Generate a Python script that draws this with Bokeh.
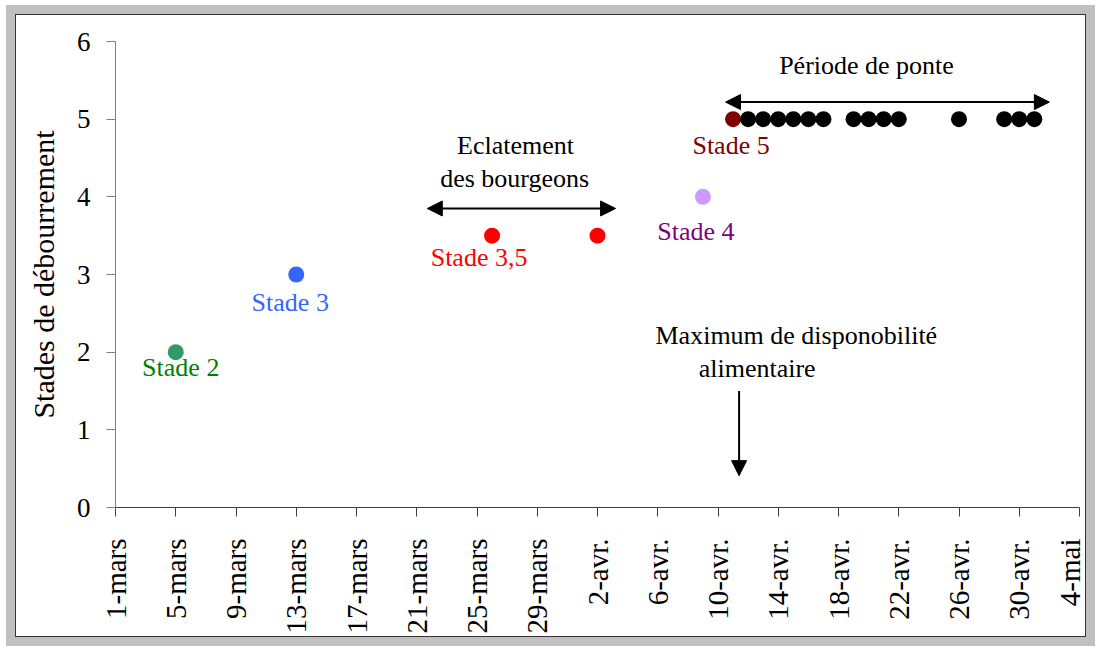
import math
from bokeh.plotting import figure
from bokeh.models import Range1d, FixedTicker, Label, Arrow, NormalHead
from bokeh.layouts import column
from bokeh.embed import file_html
from bokeh.resources import INLINE

# ---- data (days counted from 1 March) ----
tick_days = [0, 4, 8, 12, 16, 20, 24, 28, 32, 36, 40, 44, 48, 52, 56, 60, 64]
tick_labels = ["1-mars", "5-mars", "9-mars", "13-mars", "17-mars", "21-mars",
               "25-mars", "29-mars", "2-avr.", "6-avr.", "10-avr.", "14-avr.",
               "18-avr.", "22-avr.", "26-avr.", "30-avr.", "4-mai"]

stage_days = [4, 12, 25, 32, 39, 41]
stage_values = [2, 3, 3.5, 3.5, 4, 5]
stage_colors = ["#339966", "#3366FF", "#FF0000", "#FF0000", "#CC99FF", "#800000"]

label_texts = ["Stade 2", "Stade 3", "Stade 3,5", "Stade 4", "Stade 5"]
label_point_index = [0, 1, 2, 4, 5]
label_colors = ["#008000", "#3366FF", "#FF0000", "#800080", "#800000"]
label_dx = [5, -6, -13, -7, -2]      # screen offsets from the point
label_dy = [15, 28, 22, 35, 26]

ponte_days = [42, 43, 44, 45, 46, 47, 49, 50, 51, 52, 56, 59, 60, 61]
ponte_values = [5] * len(ponte_days)

FONT = "Liberation Serif"

p = figure(width=1069, height=621, output_backend="svg", toolbar_location=None,
           x_range=Range1d(0, 64), y_range=Range1d(0, 6),
           min_border_left=99, min_border_right=6, min_border_top=26,
           min_border_bottom=129, background_fill_color="white",
           border_fill_color="white")
p.outline_line_color = None
p.xgrid.visible = False
p.ygrid.visible = False

# axes
p.xaxis.ticker = FixedTicker(ticks=tick_days)
p.xaxis.major_label_overrides = {d: l for d, l in zip(tick_days, tick_labels)}
p.xaxis.major_label_orientation = math.pi / 2
p.xaxis.major_label_text_font = FONT
p.xaxis.major_label_text_font_size = "29px"
p.xaxis.major_label_text_color = "black"
p.xaxis.major_label_standoff = 22
p.xaxis.major_tick_out = 9
p.xaxis.major_tick_in = 0
p.xaxis.minor_tick_out = 0
p.xaxis.minor_tick_in = 0
p.xaxis.axis_line_color = "#404040"
p.xaxis.major_tick_line_color = "#404040"

p.yaxis.ticker = FixedTicker(ticks=[0, 1, 2, 3, 4, 5, 6])
p.yaxis.major_label_text_font = FONT
p.yaxis.major_label_text_font_size = "27px"
p.yaxis.major_label_text_color = "black"
p.yaxis.major_label_standoff = 16
p.yaxis.major_tick_out = 9
p.yaxis.major_tick_in = 0
p.yaxis.minor_tick_out = 0
p.yaxis.minor_tick_in = 0
p.yaxis.axis_line_color = "#808080"
p.yaxis.major_tick_line_color = "#808080"
p.yaxis.axis_label = "Stades de débourrement"
p.yaxis.axis_label_text_font = FONT
p.yaxis.axis_label_text_font_size = "30px"
p.yaxis.axis_label_text_font_style = "normal"
p.yaxis.axis_label_text_color = "black"
p.yaxis.axis_label_standoff = 14

# points
p.scatter(stage_days, stage_values, size=16, color=stage_colors, line_color=None)
p.scatter(ponte_days, ponte_values, size=16, color="black", line_color=None)

# stage labels
for t, i, c, dx, dy in zip(label_texts, label_point_index, label_colors, label_dx, label_dy):
    p.add_layout(Label(x=stage_days[i], y=stage_values[i], x_offset=dx, y_offset=-dy,
                       text=t, text_color=c, text_font=FONT, text_font_size="26px",
                       text_align="center", text_baseline="middle"))

# annotations
def note(x, y, t):
    p.add_layout(Label(x=x, y=y, text=t, text_color="black", text_font=FONT,
                       text_font_size="26px", text_align="center", text_baseline="middle"))

note(49.86, 5.69, "Période de ponte")
note(26.56, 4.66, "Eclatement")
note(26.5, 4.24, "des bourgeons")
note(45.2, 2.21, "Maximum de disponobilité")
note(42.6, 1.79, "alimentaire")

def head():
    return NormalHead(size=15, fill_color="black", line_color="black")

p.add_layout(Arrow(start=head(), end=head(), x_start=40.5, y_start=5.22, x_end=62.0,
                   y_end=5.22, line_width=2, line_color="black"))
p.add_layout(Arrow(start=head(), end=head(), x_start=20.7, y_start=3.85, x_end=33.2,
                   y_end=3.85, line_width=2, line_color="black"))
p.add_layout(Arrow(end=head(), x_start=41.4, y_start=1.5, x_end=41.4, y_end=0.41,
                   line_width=2, line_color="black"))

p.styles = {"box-shadow": "0 0 0 1px #333333, 0 0 0 10px #c0c0c0"}

page = column(p, styles={"padding": "15px 8px 8px 16px"})

open("out.html", "w").write(file_html(page, INLINE))
